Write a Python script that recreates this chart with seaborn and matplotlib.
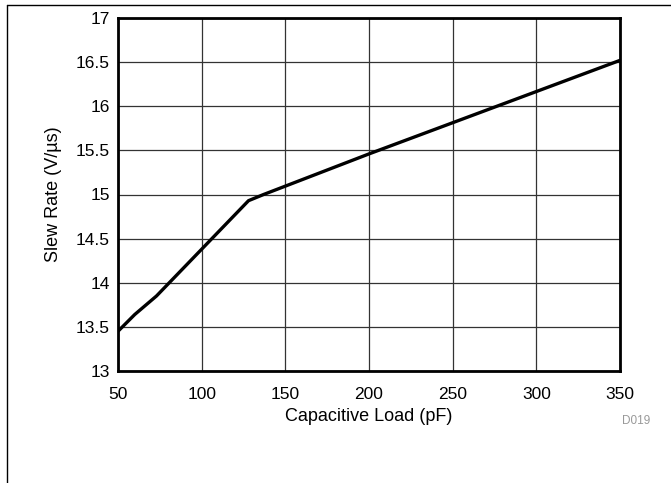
import matplotlib
matplotlib.use("Agg")
import matplotlib.pyplot as plt
from matplotlib.lines import Line2D
import seaborn as sns
import pandas as pd

# Slew rate vs capacitive load
load_pf = [50, 60, 73, 128, 137, 200, 275, 350]
slew_rate = [13.45, 13.64, 13.85, 14.93, 15.00, 15.46, 15.99, 16.52]
x_ticks = [50, 100, 150, 200, 250, 300, 350]
y_ticks = [13, 13.5, 14, 14.5, 15, 15.5, 16, 16.5, 17]

df = pd.DataFrame({"load": load_pf, "slew": slew_rate})

sns.set_theme(style="white")
plt.rcParams["font.family"] = ["Liberation Sans", "DejaVu Sans"]

W, H = 671, 483
fig = plt.figure(figsize=(W / 100, H / 100), dpi=100)
ax = fig.add_axes([118 / W, 1 - 371 / H, (620 - 118) / W, (371 - 18) / H])

sns.lineplot(data=df, x="load", y="slew", ax=ax, color="black", linewidth=2.4,
             sort=False, estimator=None)

ax.set_xlim(50, 350)
ax.set_ylim(13, 17)
ax.set_xticks(x_ticks)
ax.set_yticks(y_ticks)
ax.set_xticklabels([str(v) for v in x_ticks])
ax.set_yticklabels([f"{v:g}" for v in y_ticks])
ax.grid(True, color="#333333", linewidth=0.9)
ax.set_axisbelow(True)
for s in ax.spines.values():
    s.set_visible(True)
    s.set_color("black")
    s.set_linewidth(2.0)
ax.tick_params(axis="x", labelsize=12.5, colors="black", length=0, pad=11.5)
ax.tick_params(axis="y", labelsize=12.5, colors="black", length=0, pad=6)
ax.set_xlabel("Capacitive Load (pF)", fontsize=13, color="black", labelpad=4)
ax.set_ylabel("Slew Rate (V/\u00b5s)", fontsize=13, color="black", labelpad=10)

fig.text(650 / W, 1 - 421 / H, "D019", fontsize=8.5, color="#999999",
         ha="right", va="center")

# page frame lines
fig.add_artist(Line2D([7 / W, 1], [1 - 5 / H, 1 - 5 / H], color="black",
                      linewidth=1.0, transform=fig.transFigure))
fig.add_artist(Line2D([7 / W, 7 / W], [0, 1 - 5 / H], color="black",
                      linewidth=1.0, transform=fig.transFigure))

fig.savefig("out.png", dpi=100)
